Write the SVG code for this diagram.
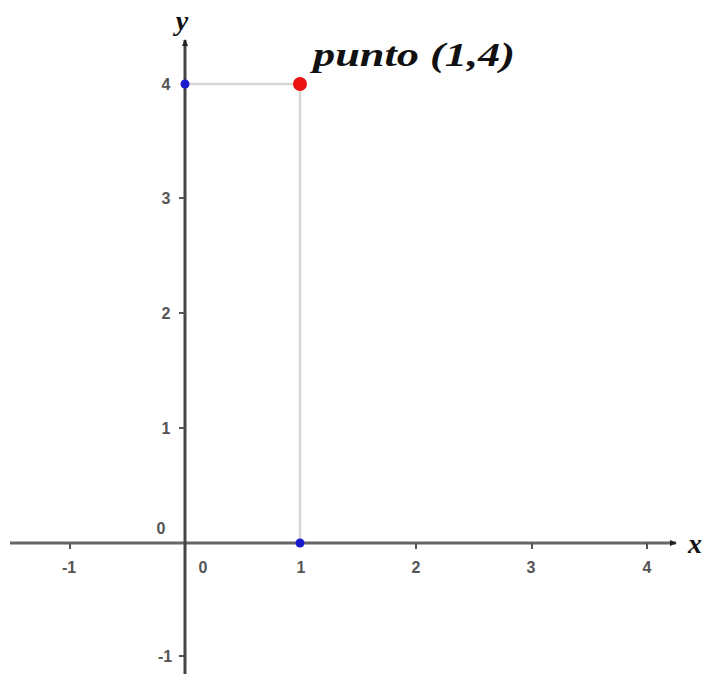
<svg xmlns="http://www.w3.org/2000/svg" width="704" height="674" viewBox="0 0 704 674">
<style>
.tl{font-family:"Liberation Sans",Arial,sans-serif;font-size:16px;font-weight:bold;fill:#555;}
.ax{stroke:#666;stroke-width:3;fill:none;}
.tk{stroke:#555;stroke-width:2;}
.gd{stroke:#d6d6d6;stroke-width:2.5;}
.it{font-family:"Liberation Serif","Times New Roman",serif;font-style:italic;font-weight:bold;fill:#111;}
</style>
<defs>
<marker id="ar" markerWidth="8" markerHeight="8" refX="6" refY="4" orient="auto" markerUnits="userSpaceOnUse">
<path d="M0,1 L7,4 L0,7 Z" fill="#222"/>
</marker>
</defs>
<g id="guides">
<line class="gd" x1="186" y1="84" x2="300" y2="84"/>
<line class="gd" x1="300" y1="84" x2="300" y2="543"/>
</g>
<g id="connectors">
<line class="ax" x1="10" y1="543" x2="676" y2="543" marker-end="url(#ar)"/>
<line class="ax" x1="185" y1="674" x2="185" y2="40" style="stroke:#444" marker-end="url(#ar)"/>
</g>
<g id="ticks">
<line class="tk" x1="70" y1="543" x2="70" y2="549"/>
<line class="tk" x1="416" y1="543" x2="416" y2="549"/>
<line class="tk" x1="532" y1="543" x2="532" y2="549"/>
<line class="tk" x1="647" y1="543" x2="647" y2="549"/>
<line class="tk" x1="179" y1="198" x2="185" y2="198"/>
<line class="tk" x1="179" y1="313" x2="185" y2="313"/>
<line class="tk" x1="179" y1="428" x2="185" y2="428"/>
<line class="tk" x1="179" y1="656" x2="185" y2="656"/>
</g>
<g id="xlabels">
<text class="tl" x="69" y="573" text-anchor="middle">-1</text>
<text class="tl" x="203" y="573" text-anchor="middle">0</text>
<text class="tl" x="301" y="573" text-anchor="middle">1</text>
<text class="tl" x="416" y="573" text-anchor="middle">2</text>
<text class="tl" x="531" y="573" text-anchor="middle">3</text>
<text class="tl" x="647" y="573" text-anchor="middle">4</text>
</g>
<g id="ylabels">
<text class="tl" x="166" y="90" text-anchor="middle">4</text>
<text class="tl" x="166" y="204" text-anchor="middle">3</text>
<text class="tl" x="166" y="319" text-anchor="middle">2</text>
<text class="tl" x="166" y="434" text-anchor="middle">1</text>
<text class="tl" x="161" y="534" text-anchor="middle">0</text>
<text class="tl" x="165" y="662" text-anchor="middle">-1</text>
</g>
<g id="axis-names">
<text class="it" x="182" y="30" font-size="28" text-anchor="middle">y</text>
<text class="it" x="688" y="553" font-size="28">x</text>
</g>
<g id="point-y4">
<circle cx="185" cy="84" r="4.5" fill="#1a1acc"/>
</g>
<g id="point-x1">
<circle cx="300" cy="543" r="4.5" fill="#1a1acc"/>
</g>
<g id="point-1-4">
<circle cx="300" cy="84" r="7" fill="#ee1111"/>
<text class="it" x="313" y="66" font-size="34" textLength="202" lengthAdjust="spacingAndGlyphs">punto (1,4)</text>
</g>
</svg>
